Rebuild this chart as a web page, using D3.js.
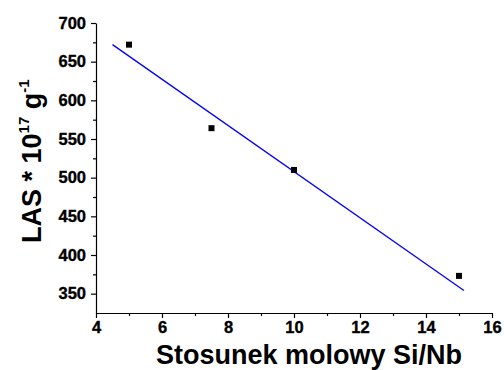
<!DOCTYPE html>
<html>
<head>
<meta charset="utf-8">
<script src="https://cdn.jsdelivr.net/npm/d3@7"></script>
<style>
	body { margin: 0; background: #fff; }
	svg text { font-family: "Liberation Sans", Arial, sans-serif; font-weight: bold; fill: #000; }
</style>
</head>
<body>
<div id="chart"></div>
<script>
// measured points
const ratios = [5, 7.5, 10, 15];
const lasValues = [672, 564, 510, 373];
// linear fit, end points
const fitX = [4.5, 15.15];
const fitY = [672, 354];

const xTicks = [4, 6, 8, 10, 12, 14, 16];
const yTicks = [350, 400, 450, 500, 550, 600, 650, 700];

const width = 504;
const height = 370;
const margins = { left: 96, right: 12, top: 23, bottom: 57 };

const svg = d3
	.select("#chart")
	.append("svg")
	.attr("width", width)
	.attr("height", height);

const x = d3.scaleLinear().domain([4, 16]).range([margins.left, width - margins.right]);
const y = d3.scaleLinear().domain([325, 700]).range([height - margins.bottom, margins.top]);

const axis = svg.append("g").attr("class", "axis-group");

// minor ticks first
axis
	.append("g")
	.attr("transform", `translate(0, ${y(325)})`)
	.call(d3.axisBottom(x).tickValues(d3.range(5, 16, 2)).tickSize(3).tickFormat(""))
	.call((g) => g.select(".domain").remove());

axis
	.append("g")
	.attr("transform", `translate(${x(4)}, 0)`)
	.call(d3.axisLeft(y).tickValues(d3.range(375, 700, 50)).tickSize(3).tickFormat(""))
	.call((g) => g.select(".domain").remove());

// X axis
axis
	.append("g")
	.attr("class", "x-axis")
	.attr("transform", `translate(0, ${y(325)})`)
	.call(d3.axisBottom(x).tickValues(xTicks).tickSize(5).tickSizeOuter(0).tickPadding(3));

// Y axis
axis
	.append("g")
	.attr("class", "y-axis")
	.attr("transform", `translate(${x(4)}, 0)`)
	.call(d3.axisLeft(y).tickValues(yTicks).tickSize(5).tickSizeOuter(0).tickPadding(5));

axis
	.selectAll(".tick text")
	.attr("font-size", 16.5)
	.attr("font-weight", "bold")
	.attr("font-family", "Liberation Sans, Arial, sans-serif")
	.attr("stroke", "#000")
	.attr("stroke-width", 0.35);
axis.selectAll(".domain, .tick line").attr("stroke", "#000").attr("stroke-width", 1.2);

// fit line
svg
	.append("path")
	.datum(d3.zip(fitX, fitY))
	.attr("fill", "none")
	.attr("stroke", "#0000ff")
	.attr("stroke-width", 1.3)
	.attr("d", d3.line().x(([a]) => x(a)).y(([_, b]) => y(b)));

// square markers
const sq = 6;
svg
	.append("g")
	.selectAll("rect")
	.data(d3.zip(ratios, lasValues))
	.join("rect")
	.attr("x", ([a]) => x(a) - sq / 2)
	.attr("y", ([_, b]) => y(b) - sq / 2)
	.attr("width", sq)
	.attr("height", sq)
	.attr("fill", "#000");

// axis titles
svg
	.append("text")
	.attr("x", 156)
	.attr("y", 364)
	.attr("font-size", 27)
	.text("Stosunek molowy Si/Nb");

const yTitle = svg
	.append("text")
	.attr("transform", "translate(41, 243) rotate(-90)")
	.attr("font-size", 27);
yTitle.append("tspan").text("LAS * 10");
yTitle.append("tspan").attr("font-size", 15).attr("dy", -12).text("17");
yTitle.append("tspan").attr("dy", 12).text(" g");
yTitle.append("tspan").attr("font-size", 15).attr("dy", -12).text("-1");
</script>
</body>
</html>
